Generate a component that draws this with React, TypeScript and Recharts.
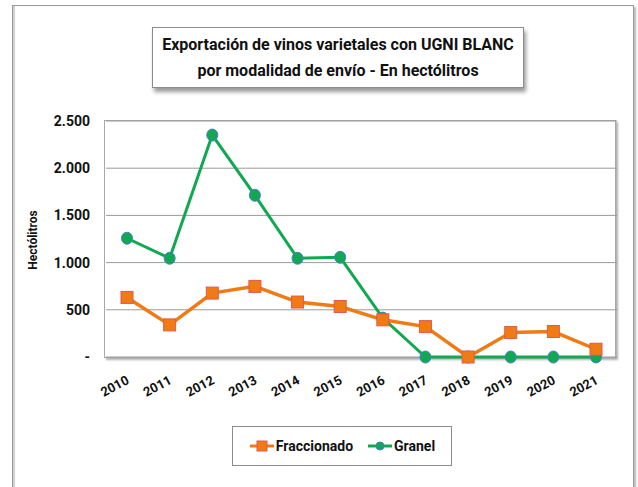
import React from "react";
import { LineChart, Line, XAxis, YAxis, CartesianGrid } from "recharts";

const years = ["2010", "2011", "2012", "2013", "2014", "2015", "2016", "2017", "2018", "2019", "2020", "2021"];
const fraccionado = [631, 340, 677, 748, 582, 535, 394, 322, 0, 259, 270, 82];
const granel = [1258, 1046, 2351, 1713, 1046, 1056, 412, 0, 0, 0, 0, 0];
const yTicks = [0, 500, 1000, 1500, 2000, 2500];

const data = years.map((y, i) => ({
  year: y,
  Fraccionado: fraccionado[i],
  Granel: granel[i],
}));

const FONT = "Roboto, 'Liberation Sans', Arial, sans-serif";
const ORANGE = "#f07a14";
const GREEN = "#10a850";

const fmtY = (v: number) => (v === 0 ? "-" : v.toLocaleString("es-AR"));

function YearTick(props: any) {
  const { x, y, payload } = props;
  return (
    <g transform={`translate(${x + 3},${y + 18})`}>
      <text
        transform="rotate(-28)"
        textAnchor="end"
        fontFamily={FONT}
        fontWeight="bold"
        fontSize={13}
        fill="#111"
      >
        {payload.value}
      </text>
    </g>
  );
}

function Square(props: any) {
  const { cx, cy } = props;
  return <rect x={cx - 6} y={cy - 6} width={12} height={12} fill={ORANGE} stroke="#e05a50" strokeWidth={1} />;
}

function Dot(props: any) {
  const { cx, cy } = props;
  return <ellipse cx={cx} cy={cy} rx={5.5} ry={6} fill={GREEN} stroke="#4a7bd0" strokeWidth={1} />;
}

function LegendBox() {
  const item = (label: string, color: string, marker: React.ReactNode) => (
    <span style={{ display: "inline-flex", alignItems: "center", marginRight: 14 }}>
      <svg width={26} height={12}>
        <line x1={1} y1={6} x2={25} y2={6} stroke={color} strokeWidth={3} />
        {marker}
      </svg>
      <span style={{ marginLeft: 1 }}>{label}</span>
    </span>
  );
  return (
    <div
      style={{
        position: "absolute",
        left: 232,
        top: 426,
        width: 220,
        height: 40,
        boxSizing: "border-box",
        border: "1px solid #8c8c8c",
        display: "flex",
        alignItems: "center",
        justifyContent: "center",
        fontFamily: FONT,
        fontWeight: "bold",
        fontSize: 14,
        color: "#111",
        background: "#fff",
        paddingLeft: 14,
      }}
    >
      {item("Fraccionado", ORANGE, <rect x={8} y={1} width={10} height={10} fill={ORANGE} stroke="#e05a50" />)}
      {item("Granel", GREEN, <circle cx={13} cy={6} r={4} fill={GREEN} stroke="#4a7bd0" />)}
    </div>
  );
}

export default function App() {
  return (
    <div style={{ position: "absolute", left: 0, top: 0, width: 638, height: 487, background: "#fff" }}>
      {/* outer frame */}
      <div
        style={{
          position: "absolute",
          left: 12,
          top: 5,
          width: 620,
          height: 490,
          border: "1px solid #9a9a9a",
          boxShadow: "2px 2px 2px #b8b8b8, inset 2px 0 1px #d0d0d0",
        }}
      />
      {/* title box */}
      <div
        style={{
          position: "absolute",
          left: 152,
          top: 27,
          width: 372,
          height: 61,
          boxSizing: "border-box",
          border: "1px solid #8c8c8c",
          boxShadow: "2px 4px 4px #9a9a9a",
          background: "#fff",
          fontFamily: FONT,
          fontWeight: "bold",
          fontSize: 16,
          lineHeight: "26px",
          color: "#111",
          textAlign: "center",
          paddingTop: 4,
          whiteSpace: "nowrap",
        }}
      >
        Exportación de vinos varietales con UGNI BLANC
        <br />
        por modalidad de envío - En hectólitros
      </div>
      {/* plot frame */}
      <div
        style={{
          position: "absolute",
          left: 104,
          top: 120,
          width: 512,
          height: 238,
          boxSizing: "border-box",
          border: "1px solid #a8a8a8",
          boxShadow: "2px 2px 2px #b0b0b0",
          background: "#fff",
        }}
      />
      {/* y label */}
      <div
        style={{
          position: "absolute",
          left: 33,
          top: 240,
          transform: "translate(-50%, -50%) rotate(-90deg)",
          fontFamily: FONT,
          fontWeight: "bold",
          fontSize: 12,
          color: "#111",
          whiteSpace: "nowrap",
        }}
      >
        Hectólitros
      </div>
      <div style={{ position: "absolute", left: 0, top: 0 }}>
        <LineChart
          width={638}
          height={487}
          data={data}
          margin={{ top: 121, right: 21, bottom: 70, left: 40 }}
        >
          <CartesianGrid vertical={false} stroke="#9a9a9a" strokeWidth={1} />
          <XAxis
            dataKey="year"
            padding={{ left: 21, right: 21 }}
            tickLine={false}
            axisLine={false}
            tick={<YearTick />}
            interval={0}
            height={60}
          />
          <YAxis
            width={66}
            domain={[0, 2500]}
            ticks={yTicks}
            tickFormatter={fmtY}
            axisLine={false}
            tickLine={false}
            tick={{ fontFamily: FONT, fontWeight: "bold", fontSize: 14, fill: "#111", dx: -8 }}
          />
          <Line
            dataKey="Granel"
            stroke={GREEN}
            strokeWidth={3}
            dot={<Dot />}
            isAnimationActive={false}
          />
          <Line
            dataKey="Fraccionado"
            stroke={ORANGE}
            strokeWidth={3.5}
            dot={<Square />}
            isAnimationActive={false}
          />
        </LineChart>
      </div>
      <LegendBox />
    </div>
  );
}
